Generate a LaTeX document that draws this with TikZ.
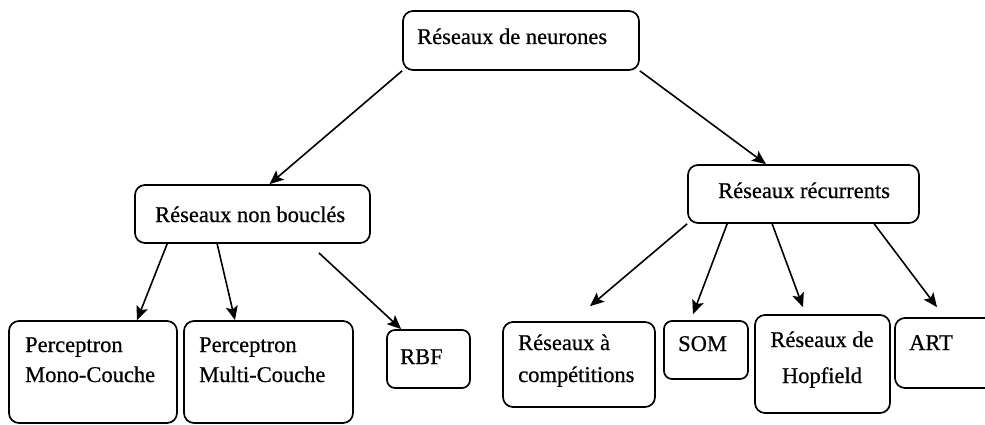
\documentclass[tikz,border=0pt]{standalone}
\usepackage{fontspec}
\setmainfont[FakeBold=0.6]{Liberation Serif}
\usetikzlibrary{arrows.meta}
\begin{document}
\begin{tikzpicture}[x=1pt,y=-1pt,
  box/.style={draw, line width=1.7pt, rounded corners=10pt, inner sep=0pt},
  lbl/.style={inner sep=0pt, font=\fontsize{22.5}{30}\selectfont},
  link/.style={line width=1.6pt, -{Stealth[length=14pt,width=12pt,inset=3pt]}}]
\clip (0,0) rectangle (985,425);

% boxes
\node[box, minimum width=236pt, minimum height=59pt]  (root)  at (521,40.5) {};
\node[box, minimum width=235pt, minimum height=58pt]  (nb)    at (252.5,214) {};
\node[box, minimum width=231pt, minimum height=58pt]  (rec)   at (803.5,194) {};
\node[box, minimum width=168pt, minimum height=102pt] (mono)  at (93,372) {};
\node[box, minimum width=169pt, minimum height=102pt] (multi) at (268.5,372) {};
\node[box, rounded corners=8pt, minimum width=83pt, minimum height=58pt] (rbf) at (428.5,359) {};
\node[box, minimum width=152pt, minimum height=85pt]  (comp)  at (579,364.5) {};
\node[box, rounded corners=8pt, minimum width=84pt, minimum height=58pt] (som) at (706,350) {};
\node[box, minimum width=135pt, minimum height=98pt]  (hop)   at (822.5,364) {};
\node[box, minimum width=100pt, minimum height=70pt]  (art)   at (945,353) {};

% labels
\node[lbl, anchor=base west] (troot)  at (417,44)  {Réseaux de neurones};
\node[lbl, anchor=base west] (tnb)    at (155,222) {Réseaux non bouclés};
\node[lbl, anchor=base west] (trec)   at (718,198) {Réseaux récurrents};
\node[lbl, anchor=base west] (tmono1) at (25,352)  {Perceptron};
\node[lbl, anchor=base west] (tmono2) at (25,382)  {Mono-Couche};
\node[lbl, anchor=base west] (tmult1) at (199,352) {Perceptron};
\node[lbl, anchor=base west] (tmult2) at (199,382) {Multi-Couche};
\node[lbl, anchor=base west] (trbf)   at (400,364) {RBF};
\node[lbl, anchor=base west] (tcomp1) at (518,350) {Réseaux à};
\node[lbl, anchor=base west] (tcomp2) at (518,382) {compétitions};
\node[lbl, anchor=base west] (tsom)   at (678,351) {SOM};
\node[lbl, anchor=base]      (thop1)  at (822,347) {Réseaux de};
\node[lbl, anchor=base]      (thop2)  at (822,383) {Hopfield};
\node[lbl, anchor=base west] (tart)   at (909,350) {ART};

% connectors
\coordinate (rbfsrc) at (319,253);
\draw[link] (root.south west) -- ([xshift=17pt]nb.north);
\draw[link] (root.south east) -- ([xshift=-37.5pt]rec.north);
\draw[link] ([xshift=33pt]nb.south west) -- ([xshift=44pt]mono.north);
\draw[link] ([xshift=83pt]nb.south west) -- ([xshift=-33.5pt]multi.north);
\draw[link] (rbfsrc) -- ([xshift=15pt]rbf.north west);
\draw[link] (rec.south west) -- ([shift={(11pt,15pt)}]comp.north);
\draw[link] ([xshift=40pt]rec.south west) -- ([shift={(-13pt,6pt)}]som.north);
\draw[link] ([xshift=85pt]rec.south west) -- ([shift={(-19.5pt,7pt)}]hop.north);
\draw[link] ([xshift=187pt]rec.south west) -- ([shift={(-8pt,10pt)}]art.north);
\end{tikzpicture}
\end{document}
